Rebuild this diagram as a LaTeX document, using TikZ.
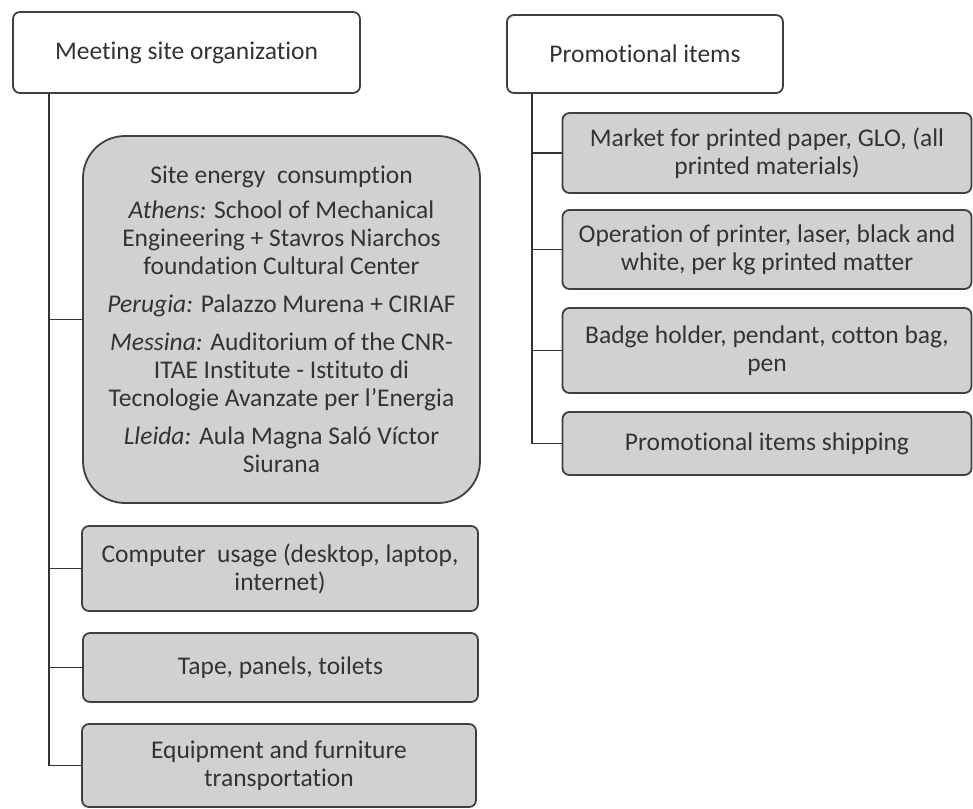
\documentclass[tikz,border=0pt]{standalone}
\usepackage{fontspec}
\setmainfont{Carlito}[Ligatures=NoCommon]
\begin{document}
\begin{tikzpicture}[x=1pt,y=-1pt,
  every node/.style={font=\fontsize{25.5}{28}\selectfont, text=black!80, align=center, inner sep=0pt},
  headbox/.style={draw=black!75, line width=1.8pt, rounded corners=7pt, fill=white},
  itembox/.style={draw=black!75, line width=1.8pt, rounded corners=7pt, fill=black!18},
  bigbox/.style={draw=black!75, line width=1.8pt, rounded corners=42pt, fill=black!18},
  link/.style={draw=black!80, line width=1.8pt}]
\useasboundingbox (0,0) rectangle (973,808);

% left branch
\node[headbox, minimum width=347pt, minimum height=81pt] (lt) at (186.5,52.5) {Meeting site organization};
\node[bigbox, minimum width=397pt, minimum height=367pt] (site) at (281.5,319.5)
  {Site energy\ \ consumption\\[7pt]
   \textit{Athens:} School of Mechanical\\
   Engineering + Stavros Niarchos\\
   foundation Cultural Center\\[10pt]
   \textit{Perugia:} Palazzo Murena + CIRIAF\\[10pt]
   \textit{Messina:} Auditorium of the CNR-\\
   ITAE Institute - Istituto di\\
   Tecnologie Avanzate per l’Energia\\[10pt]
   \textit{Lleida:} Aula Magna Saló Víctor\\
   Siurana};
\node[itembox, minimum width=396pt, minimum height=85pt] (comp) at (280,568.5)
  {Computer\ \ usage (desktop,\ laptop,\\ internet)};
\node[itembox, minimum width=395pt, minimum height=69pt] (tape) at (280.5,667.5)
  {Tape,\ panels, toilets};
\node[itembox, minimum width=394pt, minimum height=83pt] (equip) at (279,765.5)
  {Equipment and furniture\\ transportation};

% right branch
\node[headbox, minimum width=276pt, minimum height=78pt] (rt) at (645,54) {Promotional items};
\node[itembox, minimum width=409pt, minimum height=80pt] (market) at (767,153)
  {Market for printed paper, GLO, (all\\ printed materials)};
\node[itembox, minimum width=409pt, minimum height=79pt] (oper) at (767,249.5)
  {Operation of printer, laser, black and\\ white, per kg printed matter};
\node[itembox, minimum width=409pt, minimum height=85pt] (badge) at (767,350.5)
  {Badge holder, pendant, cotton bag,\\ pen};
\node[itembox, minimum width=409pt, minimum height=63pt] (ship) at (767,443.5)
  {Promotional items shipping};

% connectors: one trunk per heading, elbows into each item
\path[link] ([xshift=37pt]lt.south west) |- (site.west);
\path[link] ([xshift=37pt]lt.south west) |- (comp.west);
\path[link] ([xshift=37pt]lt.south west) |- (tape.west);
\path[link] ([xshift=37pt]lt.south west) |- (equip.west);
\path[link] ([xshift=26pt]rt.south west) |- (market.west);
\path[link] ([xshift=26pt]rt.south west) |- (oper.west);
\path[link] ([xshift=26pt]rt.south west) |- (badge.west);
\path[link] ([xshift=26pt]rt.south west) |- (ship.west);
\end{tikzpicture}
\end{document}
